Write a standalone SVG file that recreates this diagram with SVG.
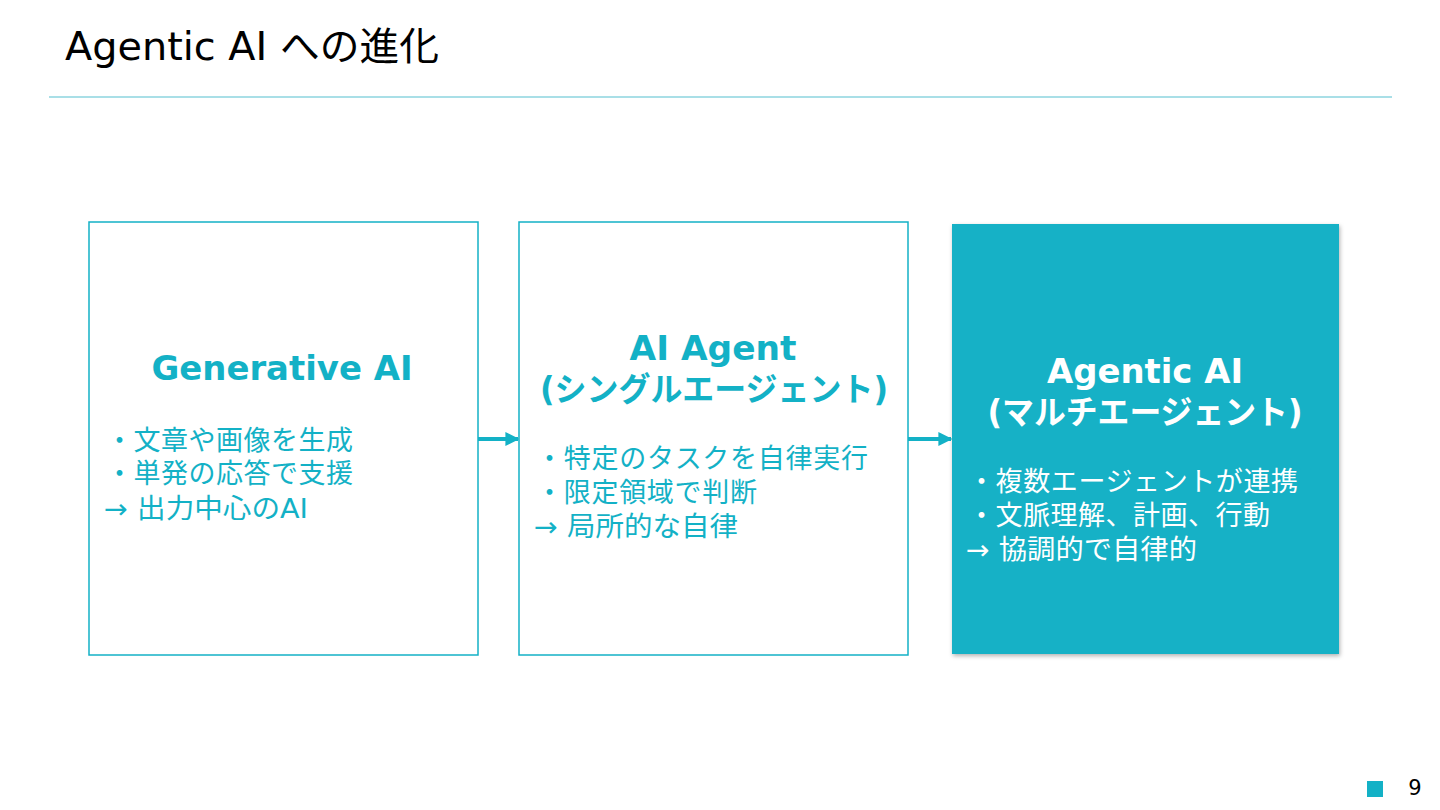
<svg xmlns="http://www.w3.org/2000/svg" width="1440" height="810" viewBox="0 0 1440 810">
<style>
.f{font-family:"DejaVu Sans","Noto Sans CJK JP",sans-serif}
.h{font-size:33px;font-weight:bold;fill:#13B1C6;text-anchor:middle}
.b{font-size:27px;fill:#13B1C6}
.w{fill:#FFFFFF}
.box{fill:#FFFFFF;stroke:#13B1C6;stroke-width:1.5}
</style>
<defs>
<marker id="ah" viewBox="0 0 10 10" refX="9" refY="5" markerWidth="3.5" markerHeight="3.5" orient="auto" markerUnits="strokeWidth">
<path d="M0,0 L10,5 L0,10 z" fill="#13B1C6"/>
</marker>
<filter id="sh" x="-5%" y="-5%" width="110%" height="110%">
<feDropShadow dx="1" dy="2" stdDeviation="2" flood-color="#000" flood-opacity="0.3"/>
</filter>
</defs>
<rect width="1440" height="810" fill="#FFFFFF"/>
<text x="65" y="60" class="f" font-size="39" fill="#000" textLength="374" lengthAdjust="spacingAndGlyphs">Agentic AI への進化</text>
<line x1="49" y1="97" x2="1392" y2="97" stroke="#8DD5DF" stroke-width="1.5"/>
<g id="connectors">
<line x1="478" y1="439" x2="518" y2="439" stroke="#13B1C6" stroke-width="4" marker-end="url(#ah)"/>
<line x1="908" y1="439" x2="951" y2="439" stroke="#13B1C6" stroke-width="4" marker-end="url(#ah)"/>
</g>
<g id="node-generative">
<rect x="89" y="222" width="389" height="433" class="box"/>
<text x="282" y="380" class="f h" textLength="261" lengthAdjust="spacingAndGlyphs">Generative AI</text>
<text x="106" y="450" class="f b" textLength="247" lengthAdjust="spacing">・文章や画像を生成</text>
<text x="106" y="483" class="f b" textLength="247" lengthAdjust="spacing">・単発の応答で支援</text>
<text x="104" y="518" class="f b" textLength="204" lengthAdjust="spacingAndGlyphs">→ 出力中心のAI</text>
</g>
<g id="node-agent">
<rect x="519" y="222" width="389" height="433" class="box"/>
<text x="713" y="360" class="f h" textLength="167" lengthAdjust="spacingAndGlyphs">AI Agent</text>
<text x="714" y="401" class="f h" textLength="348" lengthAdjust="spacingAndGlyphs">(シングルエージェント)</text>
<text x="536" y="468" class="f b" textLength="332" lengthAdjust="spacing">・特定のタスクを自律実行</text>
<text x="536" y="502" class="f b" textLength="221" lengthAdjust="spacing">・限定領域で判断</text>
<text x="534" y="536" class="f b" textLength="204" lengthAdjust="spacingAndGlyphs">→ 局所的な自律</text>
</g>
<g id="node-agentic">
<rect x="952" y="224" width="387" height="430" fill="#13B1C6" filter="url(#sh)"/>
<text x="1145" y="383" class="f h w" textLength="196" lengthAdjust="spacingAndGlyphs">Agentic AI</text>
<text x="1145" y="424" class="f h w" textLength="315" lengthAdjust="spacingAndGlyphs">(マルチエージェント)</text>
<text x="968" y="491" class="f b w" textLength="330" lengthAdjust="spacing">・複数エージェントが連携</text>
<text x="968" y="525" class="f b w" textLength="302" lengthAdjust="spacing">・文脈理解、計画、行動</text>
<text x="966" y="559" class="f b w" textLength="231" lengthAdjust="spacingAndGlyphs">→ 協調的で自律的</text>
</g>
<rect x="1367" y="781" width="16" height="16" fill="#13B1C6"/>
<text x="1415" y="795" class="f" font-size="21" fill="#000" text-anchor="middle">9</text>
</svg>
